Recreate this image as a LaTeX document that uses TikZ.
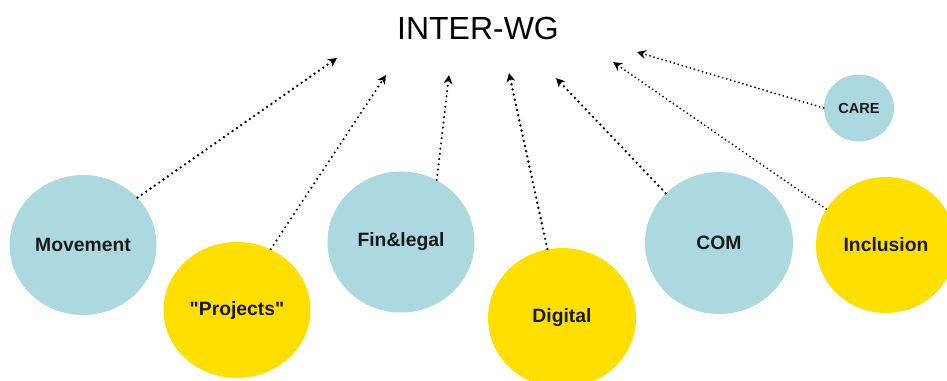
\documentclass[tikz,border=0pt]{standalone}
\usepackage{fontspec}
\setmainfont{Liberation Sans}[Ligatures=TeXOff]
\usetikzlibrary{shapes.geometric,arrows.meta}

\definecolor{wgblue}{RGB}{172,216,224}
\definecolor{wgyellow}{RGB}{255,223,0}
\definecolor{wgtext}{RGB}{25,25,25}

\tikzset{
  blob/.style n args={3}{ellipse, fill=#1, draw=none, inner sep=0pt,
    minimum width=#2, minimum height=#3, text=wgtext,
    font=\fontsize{11}{12}\selectfont\bfseries},
  link/.style={line width=1.5pt, line cap=round, dash pattern=on 0pt off 3pt,
    -{Stealth[length=5pt,width=5pt,inset=1.5pt]}},
  thinlink/.style={link, line width=1.1pt, dash pattern=on 0pt off 2.4pt}
}

\begin{document}
\begin{tikzpicture}[x=0.02cm,y=-0.02cm]

\useasboundingbox (0,0) rectangle (947,380);

% title
\node (wg) at (478,28) {\fontsize{18.2}{20}\selectfont INTER-WG};

% arrow tips under the title
\coordinate (t1) at (337,58);
\coordinate (t2) at (386,75);
\coordinate (t3) at (449,75);
\coordinate (t4) at (509,73);
\coordinate (t5) at (556,78);
\coordinate (t6) at (613,62);
\coordinate (t7) at (637,52);

% working groups
\node[blob={wgblue}{2.94cm}{2.8cm}] (mov) at (83,245) {Movement};
\node[blob={wgyellow}{2.94cm}{2.72cm}] (proj) at (237,310) {"Projects"};
\node[blob={wgblue}{2.94cm}{2.82cm}] (fin) at (401,242) {Fin\&legal};
\node[blob={wgyellow}{2.96cm}{2.8cm}] (dig) at (562,318) {Digital};
\node[blob={wgblue}{2.96cm}{2.84cm}] (com) at (719,243) {COM};
\node[blob={wgyellow}{2.8cm}{2.72cm}] (inc) at (886,245) {Inclusion};
\node[blob={wgblue}{1.4cm}{1.34cm}, font=\fontsize{8.3}{10}\selectfont\bfseries] (care) at (859,108) {CARE};

% links to INTER-WG
\draw[link] (mov.41) -- (t1);
\draw[link, line width=1.3pt] (proj.61) -- (t2);
\draw[link, line width=1.3pt] (fin.60) -- (t3);
\draw[link] (dig.102) -- (t4);
\draw[link] (com.137) -- (t5);
\draw[thinlink] (inc.149) -- (t6);
\draw[thinlink] (care.west) -- (t7);

\end{tikzpicture}
\end{document}
